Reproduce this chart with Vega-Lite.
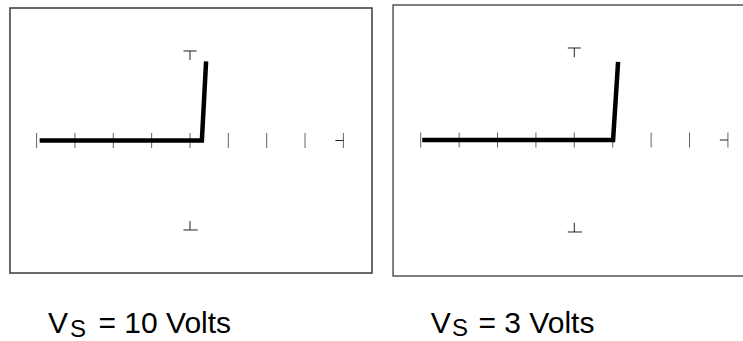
{
  "$schema": "https://vega.github.io/schema/vega-lite/v6.json",
  "background": "white",
  "padding": 0,
  "spacing": 0,
  "bounds": "flush",
  "config": {"view": {"stroke": null}},
  "datasets": {
    "box": [
      {"panel": "L", "x": -4.694, "x2": 4.746, "y": 1.48, "y2": -1.48},
      {"panel": "R", "x": -4.72, "x2": 4.72, "y": 1.467, "y2": -1.478}
    ],
    "ticks": [
      {"panel": "L", "x": -4, "y": 0}, {"panel": "L", "x": -3, "y": 0}, {"panel": "L", "x": -2, "y": 0},
      {"panel": "L", "x": -1, "y": 0}, {"panel": "L", "x": 0, "y": 0}, {"panel": "L", "x": 1, "y": 0},
      {"panel": "L", "x": 2, "y": 0}, {"panel": "L", "x": 3, "y": 0}, {"panel": "L", "x": 4, "y": 0},
      {"panel": "R", "x": -4, "y": 0}, {"panel": "R", "x": -3, "y": 0}, {"panel": "R", "x": -2, "y": 0},
      {"panel": "R", "x": -1, "y": 0}, {"panel": "R", "x": 0, "y": 0}, {"panel": "R", "x": 1, "y": 0},
      {"panel": "R", "x": 2, "y": 0}, {"panel": "R", "x": 3, "y": 0}, {"panel": "R", "x": 4, "y": 0}
    ],
    "rules": [
      {"panel": "L", "x": 3.79, "x2": 4, "y": 0, "y2": 0},
      {"panel": "L", "x": -0.17, "x2": 0.17, "y": 1, "y2": 1},
      {"panel": "L", "x": 0, "x2": 0, "y": 1, "y2": 0.9},
      {"panel": "L", "x": -0.17, "x2": 0.2, "y": -1, "y2": -1},
      {"panel": "L", "x": 0, "x2": 0, "y": -1, "y2": -0.9},
      {"panel": "R", "x": 3.79, "x2": 4, "y": 0, "y2": 0},
      {"panel": "R", "x": -0.17, "x2": 0.17, "y": 1, "y2": 1},
      {"panel": "R", "x": 0, "x2": 0, "y": 1, "y2": 0.9},
      {"panel": "R", "x": -0.17, "x2": 0.2, "y": -1, "y2": -1},
      {"panel": "R", "x": 0, "x2": 0, "y": -1, "y2": -0.9}
    ],
    "curve": [
      {"panel": "L", "i": 1, "x": -3.92, "y": 0},
      {"panel": "L", "i": 2, "x": 0.31, "y": 0},
      {"panel": "L", "i": 3, "x": 0.42, "y": 0.883},
      {"panel": "R", "i": 1, "x": -3.96, "y": 0},
      {"panel": "R", "i": 2, "x": 1.01, "y": 0},
      {"panel": "R", "i": 3, "x": 1.14, "y": 0.848}
    ],
    "labels": [
      {"panel": "L", "part": "main", "x": -3.703, "y": -2.151, "t": "V"},
      {"panel": "L", "part": "sub", "x": -3.13, "y": -2.19, "t": "S"},
      {"panel": "L", "part": "main", "x": -2.386, "y": -2.151, "t": "= 10 Volts"},
      {"panel": "R", "part": "main", "x": -3.74, "y": -2.098, "t": "V"},
      {"panel": "R", "part": "sub", "x": -3.185, "y": -2.135, "t": "S"},
      {"panel": "R", "part": "main", "x": -2.495, "y": -2.098, "t": "= 3 Volts"}
    ]
  },
  "hconcat": [
    {
      "width": 382,
      "height": 341,
      "encoding": {
        "x": {"field": "x", "type": "quantitative", "axis": null, "scale": {"domain": [-4.954, 5.007], "nice": false, "zero": false}},
        "y": {"field": "y", "type": "quantitative", "axis": null, "scale": {"domain": [-2.2402, 1.5698], "nice": false, "zero": false}}
      },
      "layer": [
        {
          "data": {"name": "box"},
          "transform": [{"filter": "datum.panel === 'L'"}],
          "mark": {"type": "rect", "fill": null, "stroke": "#3a3a3a", "strokeWidth": 1.5, "clip": true},
          "encoding": {"x2": {"field": "x2"}, "y2": {"field": "y2"}}
        },
        {
          "data": {"name": "ticks"},
          "transform": [{"filter": "datum.panel === 'L'"}],
          "mark": {"type": "tick", "orient": "vertical", "size": 15, "thickness": 1, "color": "#222"}
        },
        {
          "data": {"name": "rules"},
          "transform": [{"filter": "datum.panel === 'L'"}],
          "mark": {"type": "rule", "color": "#222", "strokeWidth": 1},
          "encoding": {"x2": {"field": "x2"}, "y2": {"field": "y2"}}
        },
        {
          "data": {"name": "curve"},
          "transform": [{"filter": "datum.panel === 'L'"}],
          "mark": {"type": "line", "color": "black", "strokeWidth": 4.5, "strokeCap": "butt", "strokeJoin": "miter"},
          "encoding": {"order": {"field": "i", "type": "quantitative"}}
        },
        {
          "data": {"name": "labels"},
          "transform": [{"filter": "datum.panel === 'L' && datum.part === 'main'"}],
          "mark": {"type": "text", "font": "Liberation Sans", "fontSize": 30, "align": "left", "baseline": "alphabetic", "color": "black"},
          "encoding": {"text": {"field": "t"}}
        },
        {
          "data": {"name": "labels"},
          "transform": [{"filter": "datum.panel === 'L' && datum.part === 'sub'"}],
          "mark": {"type": "text", "font": "Liberation Sans", "fontSize": 24, "align": "left", "baseline": "alphabetic", "color": "black"},
          "encoding": {"text": {"field": "t"}}
        }
      ]
    },
    {
      "width": 361,
      "height": 341,
      "encoding": {
        "x": {"field": "x", "type": "quantitative", "axis": null, "scale": {"domain": [-5.008, 4.393], "nice": false, "zero": false}},
        "y": {"field": "y", "type": "quantitative", "axis": null, "scale": {"domain": [-2.1848, 1.5217], "nice": false, "zero": false}}
      },
      "layer": [
        {
          "data": {"name": "box"},
          "transform": [{"filter": "datum.panel === 'R'"}],
          "mark": {"type": "rect", "fill": null, "stroke": "#555", "strokeWidth": 1.5, "clip": true},
          "encoding": {"x2": {"field": "x2"}, "y2": {"field": "y2"}}
        },
        {
          "data": {"name": "ticks"},
          "transform": [{"filter": "datum.panel === 'R'"}],
          "mark": {"type": "tick", "orient": "vertical", "size": 15, "thickness": 1, "color": "#222"}
        },
        {
          "data": {"name": "rules"},
          "transform": [{"filter": "datum.panel === 'R'"}],
          "mark": {"type": "rule", "color": "#222", "strokeWidth": 1},
          "encoding": {"x2": {"field": "x2"}, "y2": {"field": "y2"}}
        },
        {
          "data": {"name": "curve"},
          "transform": [{"filter": "datum.panel === 'R'"}],
          "mark": {"type": "line", "color": "black", "strokeWidth": 4.5, "strokeCap": "butt", "strokeJoin": "miter"},
          "encoding": {"order": {"field": "i", "type": "quantitative"}}
        },
        {
          "data": {"name": "labels"},
          "transform": [{"filter": "datum.panel === 'R' && datum.part === 'main'"}],
          "mark": {"type": "text", "font": "Liberation Sans", "fontSize": 30, "align": "left", "baseline": "alphabetic", "color": "black"},
          "encoding": {"text": {"field": "t"}}
        },
        {
          "data": {"name": "labels"},
          "transform": [{"filter": "datum.panel === 'R' && datum.part === 'sub'"}],
          "mark": {"type": "text", "font": "Liberation Sans", "fontSize": 24, "align": "left", "baseline": "alphabetic", "color": "black"},
          "encoding": {"text": {"field": "t"}}
        }
      ]
    }
  ]
}
